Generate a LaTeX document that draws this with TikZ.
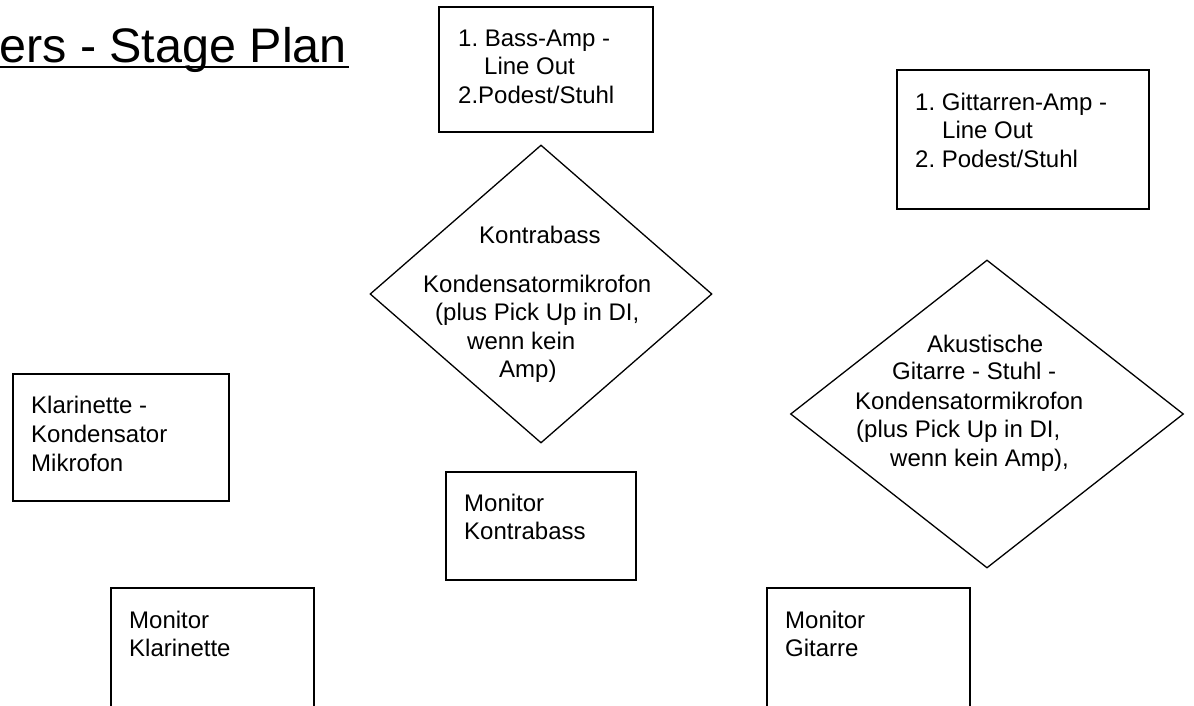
\documentclass[tikz,border=0pt]{standalone}
\usepackage{fontspec}
\setmainfont{Liberation Sans}
\usetikzlibrary{shapes.geometric}
\frenchspacing

\begin{document}
\begin{tikzpicture}[x=1pt,y=-1pt,
        box/.style={draw, line width=1.6pt, inner sep=0pt, anchor=north west},
        raute/.style={draw, diamond, line width=1.3pt, inner sep=0pt},
        txt/.style={anchor=north west, inner sep=0pt, align=left, font=\fontsize{24}{28.5}\selectfont}]
        \useasboundingbox (0,0) rectangle (1194,706);
        \clip (0,0) rectangle (1194,706);
        \node[anchor=base west, inner sep=0pt, font=\fontsize{48.5}{54}\selectfont] (titel) at (-1,63) {ers - Stage Plan};
        \draw[line width=2.4pt] (0,67) -- ([xshift=2pt]titel.base east |- 0,67);
        \node[box, minimum width=214pt, minimum height=125pt] (bassamp) at (438,6) {};
        \node[txt] (bassamptxt) at (458,29.7) {1. Bass-Amp -\\\hspace*{26pt}Line Out\\2.Podest/Stuhl};
        \node[box, minimum width=252pt, minimum height=139pt] (gitamp) at (896,69) {};
        \node[txt] (gitamptxt) at (915,92.7) {1. Gittarren-Amp -\\\hspace*{27pt}Line Out\\2. Podest/Stuhl};
        \node[raute, minimum width=342pt, minimum height=298pt] (kontrabass) at (541,294) {};
        \node[txt] (kontrabasstxt) at (423,225.7) {\hspace*{56pt}Kontrabass\\[20.5pt]Kondensatormikrofon\\\hspace*{12pt}(plus Pick Up in DI,\\\hspace*{44pt}wenn kein\\\hspace*{76pt}Amp)};
        \node[raute, minimum width=393pt, minimum height=308pt] (gitarre) at (987,414) {};
        \node[txt] (gitarretxt) at (855,334.7) {\hspace*{72pt}Akustische\\[-1pt]\hspace*{37pt}Gitarre - Stuhl -\\[1pt]Kondensatormikrofon\\\hspace*{1pt}(plus Pick Up in DI,\\\hspace*{35pt}wenn kein Amp),};
        \node[box, minimum width=216pt, minimum height=127pt] (klarinette) at (12,373) {};
        \node[txt, font=\fontsize{24}{29}\selectfont] (klarinettetxt) at (31,395.7) {Klarinette -\\Kondensator\\Mikrofon};
        \node[box, minimum width=190pt, minimum height=108pt] (monkontrabass) at (445,471) {};
        \node[txt] (monkontrabasstxt) at (464,493.7) {Monitor\\Kontrabass};
        \node[box, minimum width=203pt, minimum height=140pt] (monklarinette) at (110,587) {};
        \node[txt] (monklarinettetxt) at (129,610.7) {Monitor\\Klarinette};
        \node[box, minimum width=203pt, minimum height=140pt] (mongitarre) at (766,587) {};
        \node[txt] (mongitarretxt) at (785,610.7) {Monitor\\Gitarre};
\end{tikzpicture}
\end{document}
